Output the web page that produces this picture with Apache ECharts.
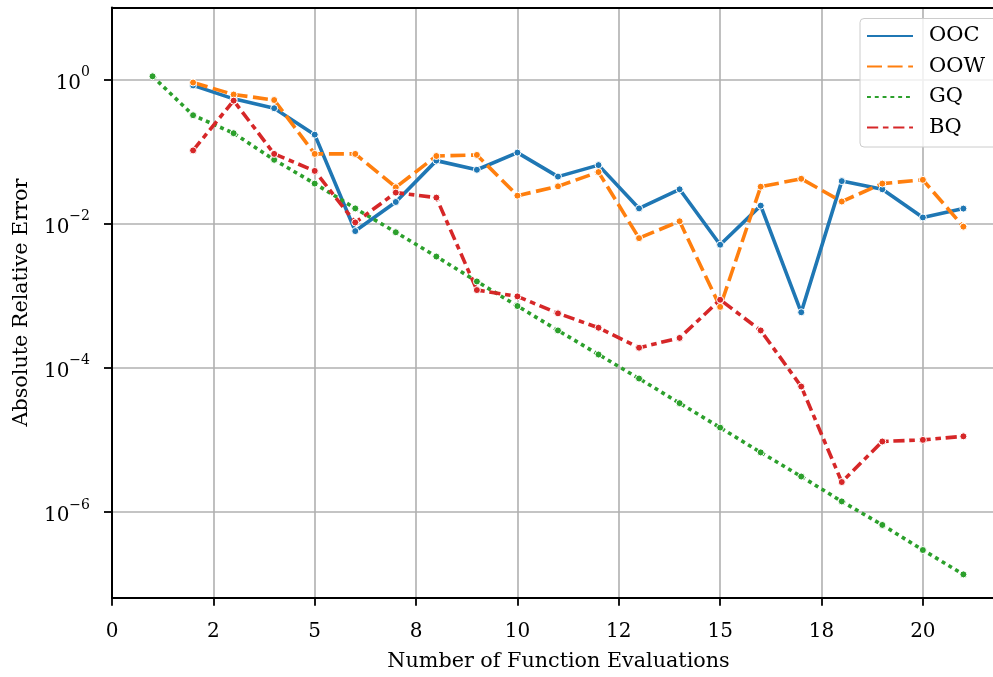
<!DOCTYPE html>
<html>
<head>
<meta charset="utf-8">
<title>Absolute Relative Error vs Function Evaluations</title>
<script src="https://cdn.jsdelivr.net/npm/echarts@6/dist/echarts.min.js"></script>
<style>
  html, body { margin: 0; padding: 0; background: #ffffff; overflow: hidden; }
  #chart { width: 993px; height: 677px; }
</style>
</head>
<body>
<div id="chart"></div>
<script>
// Number of function evaluations (x positions of every point)
const evals = [1, 2, 3, 4, 5, 6, 7, 8, 9, 10, 11, 12, 13, 14, 15, 16, 17, 18, 19, 20, 21];

// Absolute relative error for each method (null = no evaluation at that count)
const ooc = [null, 0.83, 0.54, 0.40, 0.172, 0.0079, 0.020, 0.075, 0.056, 0.097, 0.045,
  0.065, 0.0163, 0.030, 0.0051, 0.0178, 0.00059, 0.039, 0.030, 0.0122, 0.0162];
const oow = [null, 0.91, 0.62, 0.52, 0.093, 0.093, 0.032, 0.087, 0.090, 0.0245, 0.033,
  0.052, 0.0063, 0.0108, 0.00070, 0.0326, 0.042, 0.0203, 0.036, 0.0406, 0.0091];
const gq = [1.11, 0.32, 0.18, 0.077, 0.036, 0.0163, 0.0076, 0.0035, 0.00158, 0.00072, 0.00033,
  0.000153, 0.000071, 0.0000323, 0.0000148, 0.0000067, 0.0000031, 0.0000014, 0.00000066,
  0.000000296, 0.000000136];
const bq = [null, 0.104, 0.51, 0.093, 0.054, 0.0104, 0.027, 0.023, 0.0012, 0.00098, 0.00057,
  0.00036, 0.00019, 0.00026, 0.00088, 0.00033, 0.000055, 0.0000026, 0.0000095, 0.0000100, 0.0000112];

const seriesNames = ['OOC', 'OOW', 'GQ', 'BQ'];

// Axis ticks and their printed labels
const xTickValues = [0, 2.5, 5, 7.5, 10, 12.5, 15, 17.5, 20];
const xTickLabels = ['0', '2', '5', '8', '10', '12', '15', '18', '20'];
const yTickValues = [1, 1e-2, 1e-4, 1e-6];

const X_MIN = 0, X_MAX = 21.73;
const FONT = '"DejaVu Serif", "Liberation Serif", serif';
const colors = ['#1f77b4', '#ff7f0e', '#2ca02c', '#d62728'];
const LW = 3.6;
const dashes = [
  'solid',
  [15, 5.6],
  [3.9, 3.9],
  [11.2, 4.7, 5.6, 4.7]
];

function pairs(values) {
  const out = [];
  for (let i = 0; i < evals.length; i++) {
    if (values[i] != null) out.push([evals[i], values[i]]);
  }
  return out;
}

const seriesValues = [ooc, oow, gq, bq];

const series = seriesValues.map((vals, i) => ({
  name: seriesNames[i],
  type: 'line',
  xAxisIndex: 0,
  data: pairs(vals),
  symbol: 'circle',
  symbolSize: 7,
  showSymbol: true,
  clip: true,
  animation: false,
  lineStyle: { color: colors[i], width: LW, type: dashes[i], cap: 'butt' },
  itemStyle: { color: colors[i], borderColor: '#ffffff', borderWidth: 1 },
  emphasis: { disabled: true }
}));

function supLabel(v) {
  const e = Math.round(Math.log10(v));
  const s = e < 0 ? '\u2212' + (-e) : String(e);
  return '{b|10}{s|' + s + '}';
}

const chart = echarts.init(document.getElementById('chart'), null, { renderer: 'canvas' });

chart.setOption({
  animation: false,
  backgroundColor: '#ffffff',
  textStyle: { fontFamily: FONT },
  grid: {
    left: 112,
    right: 0,
    top: 7.5,
    bottom: 79.3,
    show: false
  },
  legend: {
    data: seriesNames,
    orient: 'vertical',
    left: 860,
    top: 18.5,
    itemWidth: 46,
    itemHeight: 14,
    itemGap: 9.5,
    padding: [7, 12, 9, 6],
    backgroundColor: 'rgba(255,255,255,0.8)',
    borderColor: '#cccccc',
    borderWidth: 1,
    borderRadius: 4,
    itemStyle: { opacity: 0 },
    textStyle: {
      fontFamily: FONT,
      fontSize: 21,
      color: '#000000',
      lineHeight: 20,
      padding: [0, 0, 0, 11]
    },
    selectedMode: false
  },
  xAxis: [{
    type: 'value',
    position: 'bottom',
    min: X_MIN,
    max: X_MAX,
    interval: 2.5,
    name: 'Number of Function Evaluations',
    nameLocation: 'middle',
    nameGap: 53,
    nameTextStyle: { fontFamily: FONT, fontSize: 20.7, color: '#000000', padding: [0, 0, 0, 12] },
    axisLine: { show: true, onZero: false, lineStyle: { color: '#000000', width: 2 } },
    axisTick: {
      show: true, inside: false, length: 8,
      customValues: xTickValues,
      lineStyle: { color: '#000000', width: 1.8 }
    },
    axisLabel: {
      customValues: xTickValues,
      margin: 24,
      fontFamily: FONT,
      fontSize: 20,
      color: '#000000',
      formatter: function (v) {
        const idx = xTickValues.findIndex(t => Math.abs(t - v) < 1e-6);
        return idx >= 0 ? xTickLabels[idx] : '';
      }
    },
    splitLine: { show: true, lineStyle: { color: '#b0b0b0', width: 1.6 } }
  }, {
    // top spine only
    type: 'value',
    position: 'top',
    min: X_MIN,
    max: X_MAX,
    axisLine: { show: true, onZero: false, lineStyle: { color: '#000000', width: 2 } },
    axisTick: { show: false },
    axisLabel: { show: false },
    splitLine: { show: false }
  }],
  yAxis: {
    type: 'log',
    logBase: 10,
    min: Math.pow(10, -7.19),
    max: 10,
    name: 'Absolute Relative Error',
    nameLocation: 'middle',
    nameGap: 80,
    nameTextStyle: { fontFamily: FONT, fontSize: 20.7, color: '#000000' },
    axisLine: { show: true, onZero: false, lineStyle: { color: '#000000', width: 2 } },
    axisTick: {
      show: true, inside: false, length: 8,
      customValues: yTickValues,
      lineStyle: { color: '#000000', width: 1.8 }
    },
    minorTick: { show: false },
    axisLabel: {
      customValues: yTickValues,
      margin: 22,
      formatter: supLabel,
      rich: {
        b: { fontFamily: FONT, fontSize: 20, color: '#000000', lineHeight: 28, verticalAlign: 'bottom' },
        s: { fontFamily: FONT, fontSize: 14, color: '#000000', lineHeight: 28, verticalAlign: 'top' }
      }
    },
    splitLine: { show: true, lineStyle: { color: '#b0b0b0', width: 1.6 } }
  },
  series: series
});
</script>
</body>
</html>
